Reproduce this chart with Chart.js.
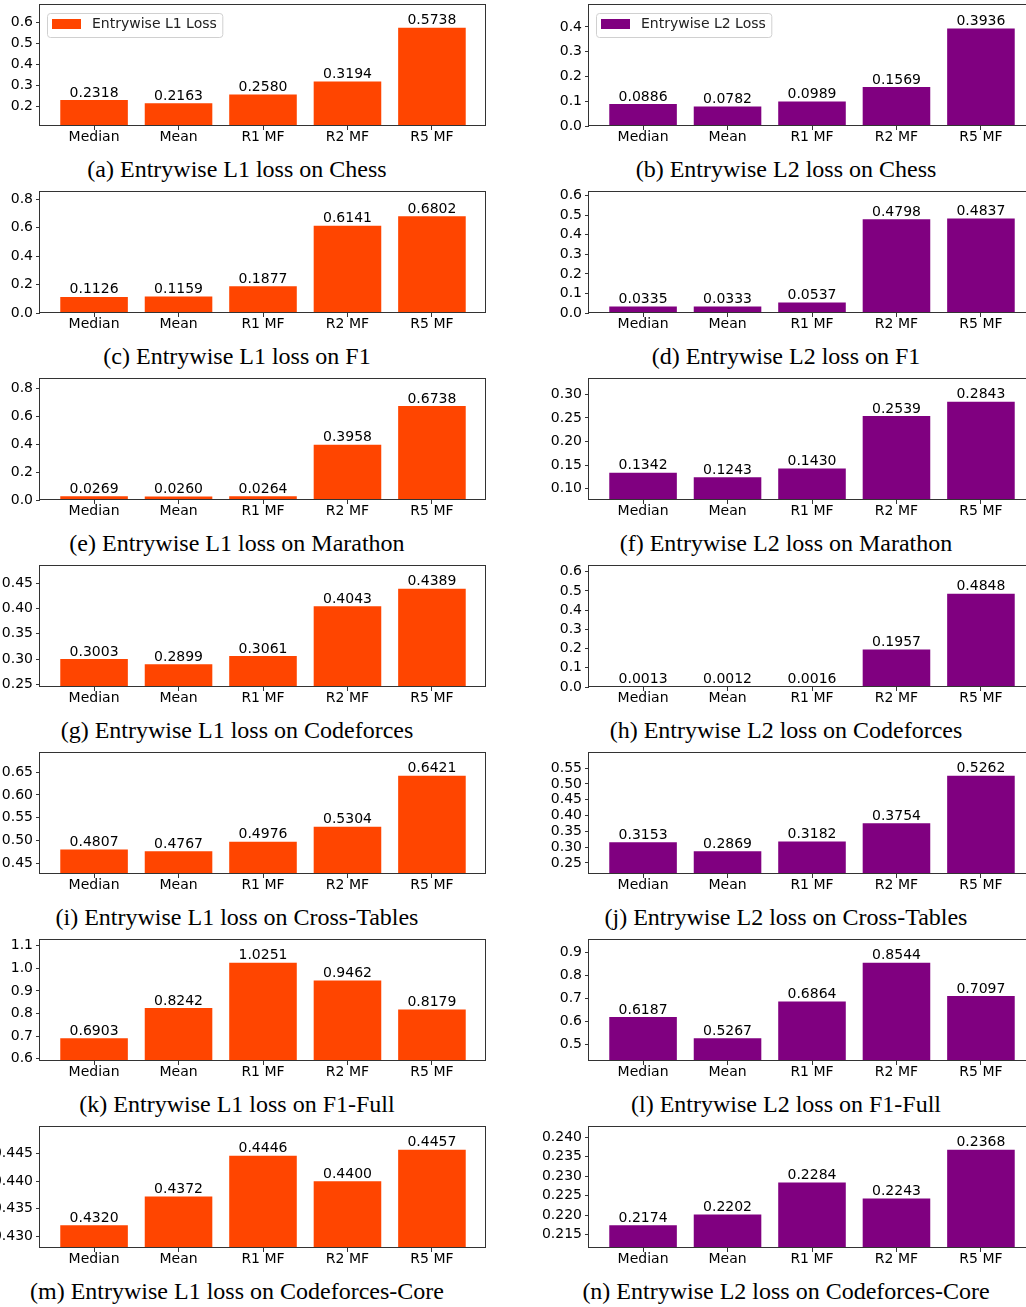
<!DOCTYPE html>
<html>
<head>
<meta charset="utf-8">
<script src="https://cdn.jsdelivr.net/npm/chart.js@4.4.0/dist/chart.umd.min.js"></script>
<style>
    html, body { margin: 0; padding: 0; background: #fff; overflow: hidden; }
    #page { position: relative; width: 1026px; height: 1307px; overflow: hidden; }
    .panel { position: absolute; }
    .caption {
        position: absolute;
        width: 560px;
        text-align: center;
        font-family: "Liberation Serif", "Times New Roman", serif;
        font-size: 24px;
        line-height: 24px;
        color: #000;
        white-space: nowrap;
    }
</style>
</head>
<body>
<div id="page"></div>
<script>
var categories = ["Median", "Mean", "R1 MF", "R2 MF", "R5 MF"];

var l1Chess = [0.2318, 0.2163, 0.2580, 0.3194, 0.5738];
var l2Chess = [0.0886, 0.0782, 0.0989, 0.1569, 0.3936];
var l1F1 = [0.1126, 0.1159, 0.1877, 0.6141, 0.6802];
var l2F1 = [0.0335, 0.0333, 0.0537, 0.4798, 0.4837];
var l1Marathon = [0.0269, 0.0260, 0.0264, 0.3958, 0.6738];
var l2Marathon = [0.1342, 0.1243, 0.1430, 0.2539, 0.2843];
var l1Codeforces = [0.3003, 0.2899, 0.3061, 0.4043, 0.4389];
var l2Codeforces = [0.0013, 0.0012, 0.0016, 0.1957, 0.4848];
var l1CrossTables = [0.4807, 0.4767, 0.4976, 0.5304, 0.6421];
var l2CrossTables = [0.3153, 0.2869, 0.3182, 0.3754, 0.5262];
var l1F1Full = [0.6903, 0.8242, 1.0251, 0.9462, 0.8179];
var l2F1Full = [0.6187, 0.5267, 0.6864, 0.8544, 0.7097];
var l1CodeforcesCore = [0.4320, 0.4372, 0.4446, 0.4400, 0.4457];
var l2CodeforcesCore = [0.2174, 0.2202, 0.2284, 0.2243, 0.2368];

var ticksA = [0.2, 0.3, 0.4, 0.5, 0.6];
var ticksB = [0.0, 0.1, 0.2, 0.3, 0.4];
var ticksC = [0.0, 0.2, 0.4, 0.6, 0.8];
var ticksD = [0.0, 0.1, 0.2, 0.3, 0.4, 0.5, 0.6];
var ticksE = [0.0, 0.2, 0.4, 0.6, 0.8];
var ticksF = [0.10, 0.15, 0.20, 0.25, 0.30];
var ticksG = [0.25, 0.30, 0.35, 0.40, 0.45];
var ticksH = [0.0, 0.1, 0.2, 0.3, 0.4, 0.5, 0.6];
var ticksI = [0.45, 0.50, 0.55, 0.60, 0.65];
var ticksJ = [0.25, 0.30, 0.35, 0.40, 0.45, 0.50, 0.55];
var ticksK = [0.6, 0.7, 0.8, 0.9, 1.0, 1.1];
var ticksL = [0.5, 0.6, 0.7, 0.8, 0.9];
var ticksM = [0.430, 0.435, 0.440, 0.445];
var ticksN = [0.215, 0.220, 0.225, 0.230, 0.235, 0.240];

var l1Color = "#ff4500";
var l2Color = "#800080";

var panels = [
    { values: l1Chess, ticks: ticksA, decimals: 1, color: l1Color, legend: "Entrywise L1 Loss", caption: "(a) Entrywise L1 loss on Chess" },
    { values: l2Chess, ticks: ticksB, decimals: 1, color: l2Color, legend: "Entrywise L2 Loss", caption: "(b) Entrywise L2 loss on Chess" },
    { values: l1F1, ticks: ticksC, decimals: 1, color: l1Color, caption: "(c) Entrywise L1 loss on F1" },
    { values: l2F1, ticks: ticksD, decimals: 1, color: l2Color, caption: "(d) Entrywise L2 loss on F1" },
    { values: l1Marathon, ticks: ticksE, decimals: 1, color: l1Color, caption: "(e) Entrywise L1 loss on Marathon" },
    { values: l2Marathon, ticks: ticksF, decimals: 2, color: l2Color, caption: "(f) Entrywise L2 loss on Marathon" },
    { values: l1Codeforces, ticks: ticksG, decimals: 2, color: l1Color, caption: "(g) Entrywise L1 loss on Codeforces" },
    { values: l2Codeforces, ticks: ticksH, decimals: 1, color: l2Color, caption: "(h) Entrywise L2 loss on Codeforces" },
    { values: l1CrossTables, ticks: ticksI, decimals: 2, color: l1Color, caption: "(i) Entrywise L1 loss on Cross-Tables" },
    { values: l2CrossTables, ticks: ticksJ, decimals: 2, color: l2Color, caption: "(j) Entrywise L2 loss on Cross-Tables" },
    { values: l1F1Full, ticks: ticksK, decimals: 1, color: l1Color, caption: "(k) Entrywise L1 loss on F1-Full" },
    { values: l2F1Full, ticks: ticksL, decimals: 1, color: l2Color, caption: "(l) Entrywise L2 loss on F1-Full" },
    { values: l1CodeforcesCore, ticks: ticksM, decimals: 3, color: l1Color, caption: "(m) Entrywise L1 loss on Codeforces-Core" },
    { values: l2CodeforcesCore, ticks: ticksN, decimals: 3, color: l2Color, caption: "(n) Entrywise L2 loss on Codeforces-Core" },
];

var rowPitch = 187;
var spineColor = "#333333";

Chart.defaults.font.family = "'DejaVu Sans', sans-serif";
Chart.defaults.font.size = 14;
Chart.defaults.color = "#000";

// frame, value labels and the legend box, drawn like matplotlib does
var panelDecor = {
    id: "panelDecor",
    afterDatasetsDraw: function (chart, args, opts) {
        var ctx = chart.ctx;
        var area = chart.chartArea;
        ctx.save();
        ctx.strokeStyle = spineColor;
        ctx.lineWidth = 1;
        ctx.strokeRect(Math.round(area.left) - 0.5, Math.round(area.top) - 0.5,
            Math.round(area.right - area.left), Math.round(area.bottom - area.top));

        ctx.font = "14px 'DejaVu Sans'";
        ctx.fillStyle = "#000";
        ctx.textAlign = "center";
        ctx.textBaseline = "alphabetic";
        var meta = chart.getDatasetMeta(0);
        meta.data.forEach(function (bar, i) {
            ctx.fillText(opts.values[i].toFixed(4), bar.x, bar.y - 3.5);
        });

        if (opts.legend) {
            var bx = area.left + 7.5;
            var by = area.top + 8.5;
            var textX = area.left + 52;
            var tw = ctx.measureText(opts.legend).width;
            var bw = textX - bx + tw + 6;
            var bh = 24;
            ctx.beginPath();
            ctx.roundRect(bx, by, bw, bh, 3);
            ctx.fillStyle = "rgba(255,255,255,0.8)";
            ctx.fill();
            ctx.strokeStyle = "#d0d0d0";
            ctx.stroke();
            ctx.fillStyle = opts.color;
            ctx.fillRect(area.left + 12, area.top + 14, 29, 10);
            ctx.fillStyle = "#222";
            ctx.textAlign = "left";
            ctx.textBaseline = "middle";
            ctx.fillText(opts.legend, textX, area.top + 19.5);
        }
        ctx.restore();
    },
};

function y_limits(values) {
    var lo = Math.min.apply(null, values);
    var hi = Math.max.apply(null, values);
    var pad = (hi - lo) * 0.3;
    return [Math.max(0, lo - pad), hi + pad];
}

function create_panel(panel, index) {
    var row = Math.floor(index / 2);
    var col = index % 2;
    var page = document.getElementById("page");

    var canvasLeft = col == 0 ? 0 : 513;
    var canvasWidth = col == 0 ? 500 : 540;
    var yWidth = col == 0 ? 40 : 76;
    var padRight = col == 0 ? 14 : 18;

    var canvas = document.createElement("canvas");
    canvas.className = "panel";
    canvas.width = canvasWidth;
    canvas.height = 150;
    canvas.style.left = canvasLeft + "px";
    canvas.style.top = row * rowPitch + "px";
    page.appendChild(canvas);

    var caption = document.createElement("div");
    caption.className = "caption";
    caption.textContent = panel.caption;
    caption.style.left = (col == 0 ? 237 : 786) - 280 + "px";
    caption.style.top = row * rowPitch + 157 + "px";
    page.appendChild(caption);

    var limits = y_limits(panel.values);
    var points = panel.values.map(function (v, i) { return { x: i, y: v }; });

    new Chart(canvas, {
        type: "bar",
        data: {
            datasets: [{
                label: panel.legend || "",
                data: points,
                backgroundColor: panel.color,
                borderWidth: 0,
                barPercentage: 0.8,
                categoryPercentage: 1.0,
            }],
        },
        options: {
            responsive: false,
            animation: false,
            layout: { padding: { top: 5, right: padRight, left: 0, bottom: 0 }, autoPadding: false },
            plugins: {
                legend: { display: false },
                tooltip: { enabled: false },
                panelDecor: { values: panel.values, legend: panel.legend, color: panel.color },
            },
            scales: {
                x: {
                    type: "linear",
                    min: -0.64,
                    max: 4.64,
                    offset: false,
                    grid: { display: true, drawOnChartArea: false, drawTicks: true, tickLength: 4, color: spineColor, offset: false },
                    border: { display: false },
                    ticks: {
                        padding: -1,
                        autoSkip: false,
                        maxRotation: 0,
                        color: "#000",
                        callback: function (v) { return categories[v]; },
                    },
                    afterBuildTicks: function (scale) {
                        scale.ticks = categories.map(function (c, i) { return { value: i }; });
                    },
                    afterFit: function (scale) {
                        scale.height = 24;
                        scale.paddingLeft = 0;
                        scale.paddingRight = 0;
                    },
                },
                y: {
                    min: limits[0],
                    max: limits[1],
                    grid: { display: true, drawOnChartArea: false, drawTicks: true, tickLength: 4, color: spineColor },
                    border: { display: false },
                    ticks: {
                        padding: 3,
                        color: "#000",
                        callback: function (v) { return v.toFixed(panel.decimals); },
                    },
                    afterBuildTicks: function (scale) {
                        scale.ticks = panel.ticks.map(function (t) { return { value: t }; });
                    },
                    afterFit: function (scale) {
                        scale.width = yWidth;
                        scale.paddingTop = 0;
                        scale.paddingBottom = 0;
                    },
                },
            },
        },
        plugins: [panelDecor],
    });
}

panels.forEach(function (panel, i) {
    create_panel(panel, i);
});
</script>
</body>
</html>
